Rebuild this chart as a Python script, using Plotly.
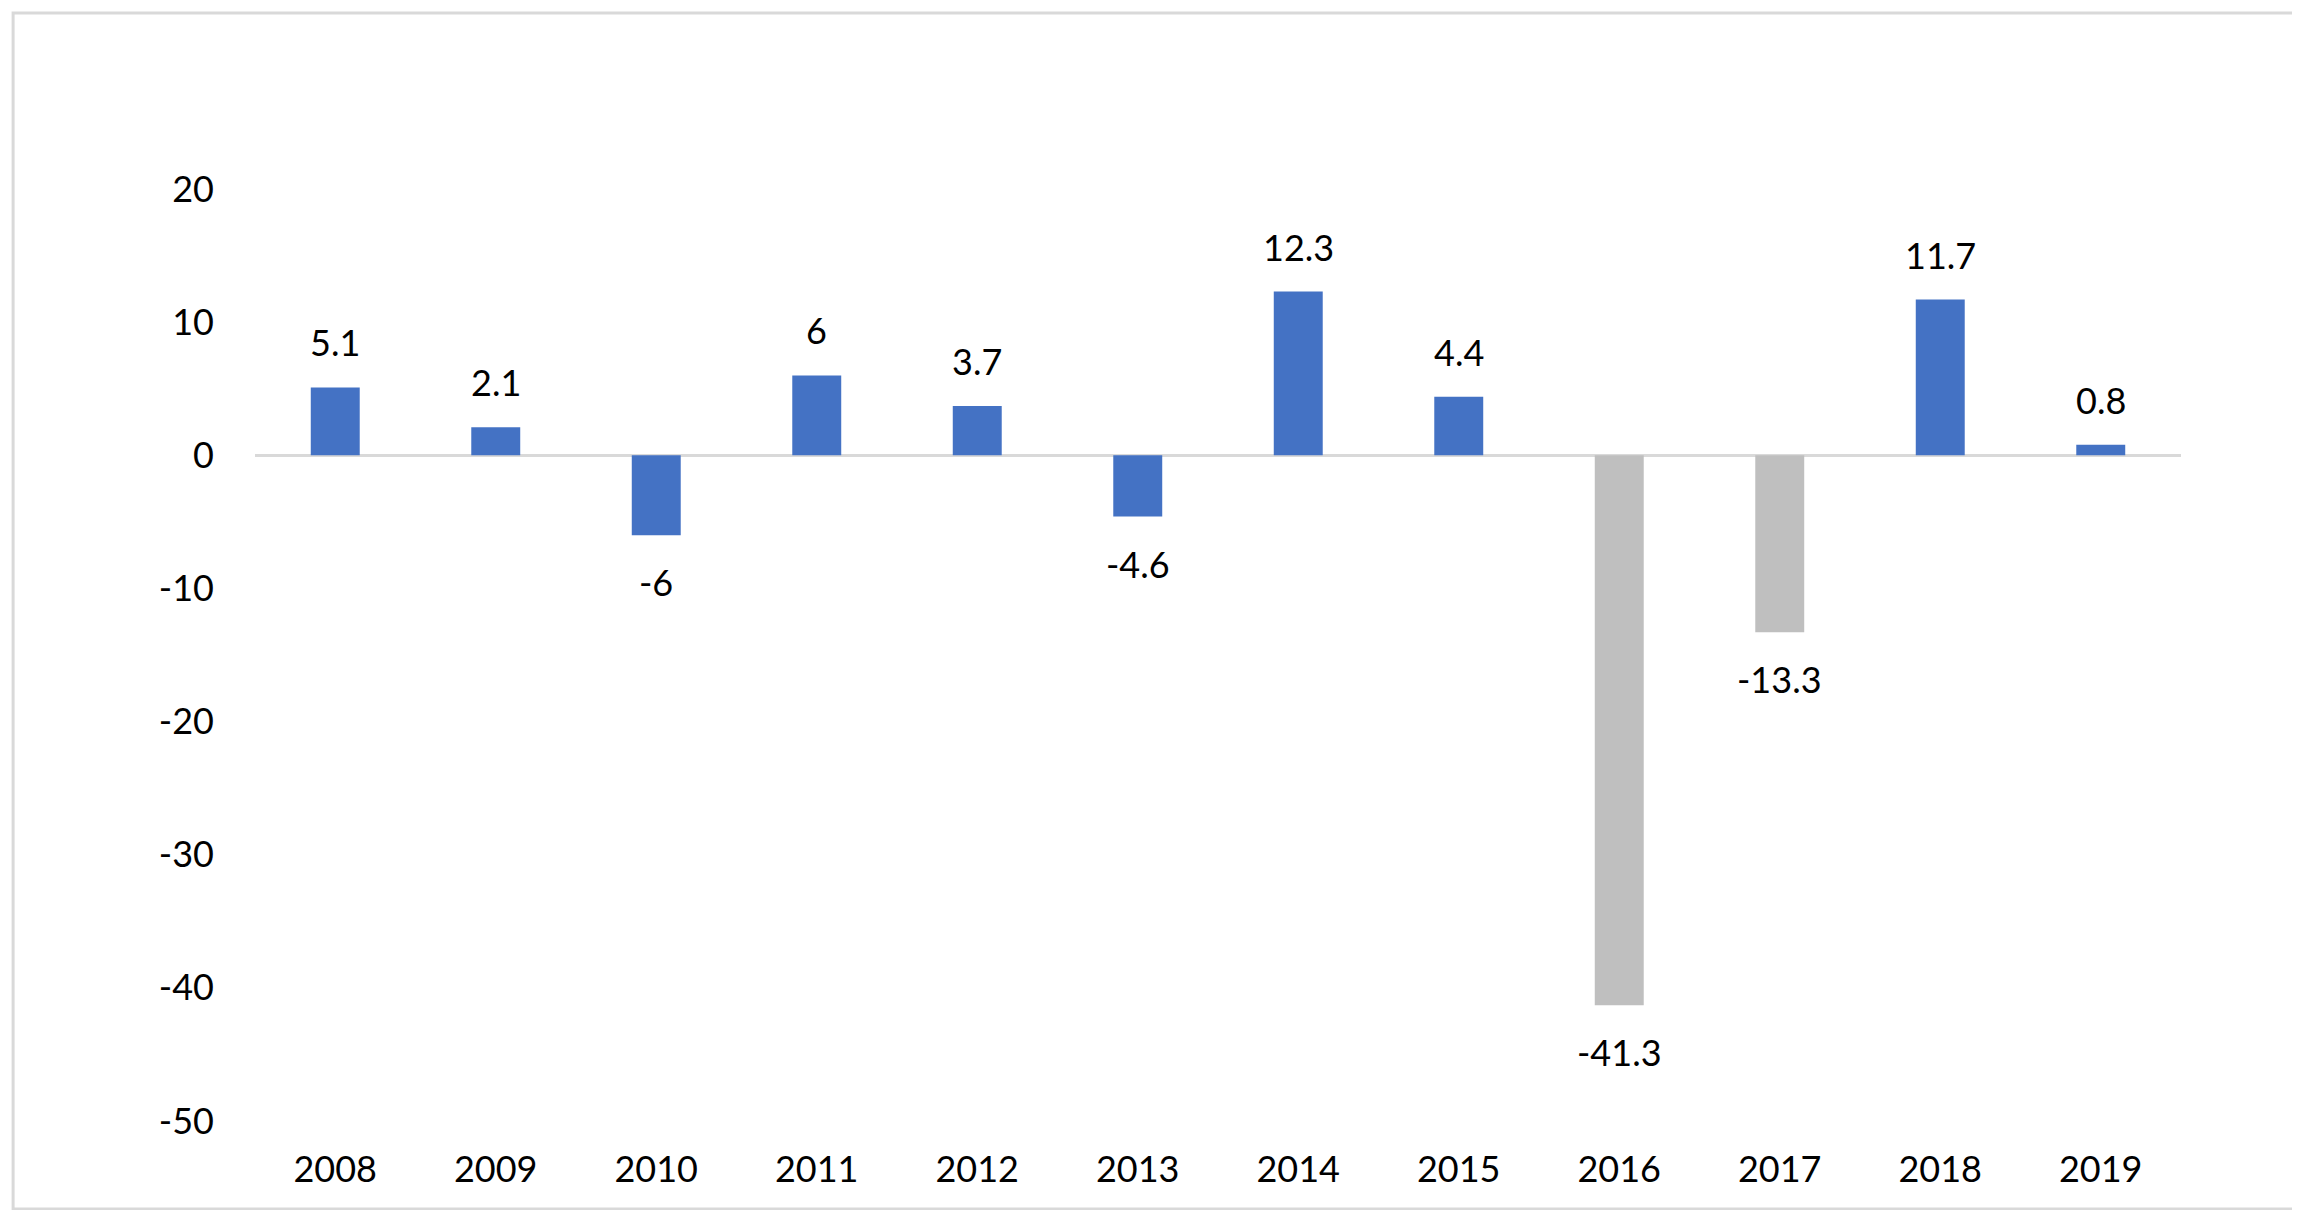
import plotly.graph_objects as go

years = ["2008", "2009", "2010", "2011", "2012", "2013", "2014", "2015", "2016", "2017", "2018", "2019"]
values = [5.1, 2.1, -6, 6, 3.7, -4.6, 12.3, 4.4, -41.3, -13.3, 11.7, 0.8]
highlight_years = ["2016", "2017"]
y_ticks = [20, 10, 0, -10, -20, -30, -40, -50]

BLUE = "#4472C4"
GRAY = "#BFBFBF"
colors = [GRAY if y in highlight_years else BLUE for y in years]

FONT = "Lato, 'Open Sans', 'Liberation Sans', sans-serif"
FS = 36

fig = go.Figure()
fig.add_trace(go.Bar(
    x=years, y=values,
    marker=dict(color=colors, line=dict(width=0)),
    hoverinfo="x+y",
))

# data labels: category serial index on the category axis
for i, v in enumerate(values):
    fig.add_annotation(
        x=i, y=v, text=f"{v:g}", showarrow=False,
        yshift=45 if v >= 0 else -47,
        font=dict(family=FONT, size=FS, color="#000000"),
    )

# chart border
fig.add_shape(type="rect", xref="paper", yref="paper",
              x0=-0.1256, x1=1.0623, y0=-0.0944, y1=1.1888,
              line=dict(color="#D9D9D9", width=3), fillcolor="rgba(0,0,0,0)")

fig.update_layout(
    width=2300, height=1210,
    margin=dict(l=247, r=127, t=181, b=97),
    paper_bgcolor="white", plot_bgcolor="white",
    bargap=0.695,
    showlegend=False,
    font=dict(family=FONT, size=FS, color="#000000"),
)
fig.update_xaxes(
    type="category", range=[-0.5, len(years) - 0.5],
    showgrid=False, showline=False, zeroline=False,
    ticks="", ticklabelstandoff=24,
    tickfont=dict(family=FONT, size=FS, color="#000000"),
)
fig.update_yaxes(
    range=[-50, 20], tickvals=y_ticks, ticktext=[str(t) for t in y_ticks],
    showgrid=False, showline=False,
    zeroline=True, zerolinecolor="#D9D9D9", zerolinewidth=3,
    ticks="", ticklabelstandoff=40,
    tickfont=dict(family=FONT, size=FS, color="#000000"),
)

fig.write_html("out.html")
